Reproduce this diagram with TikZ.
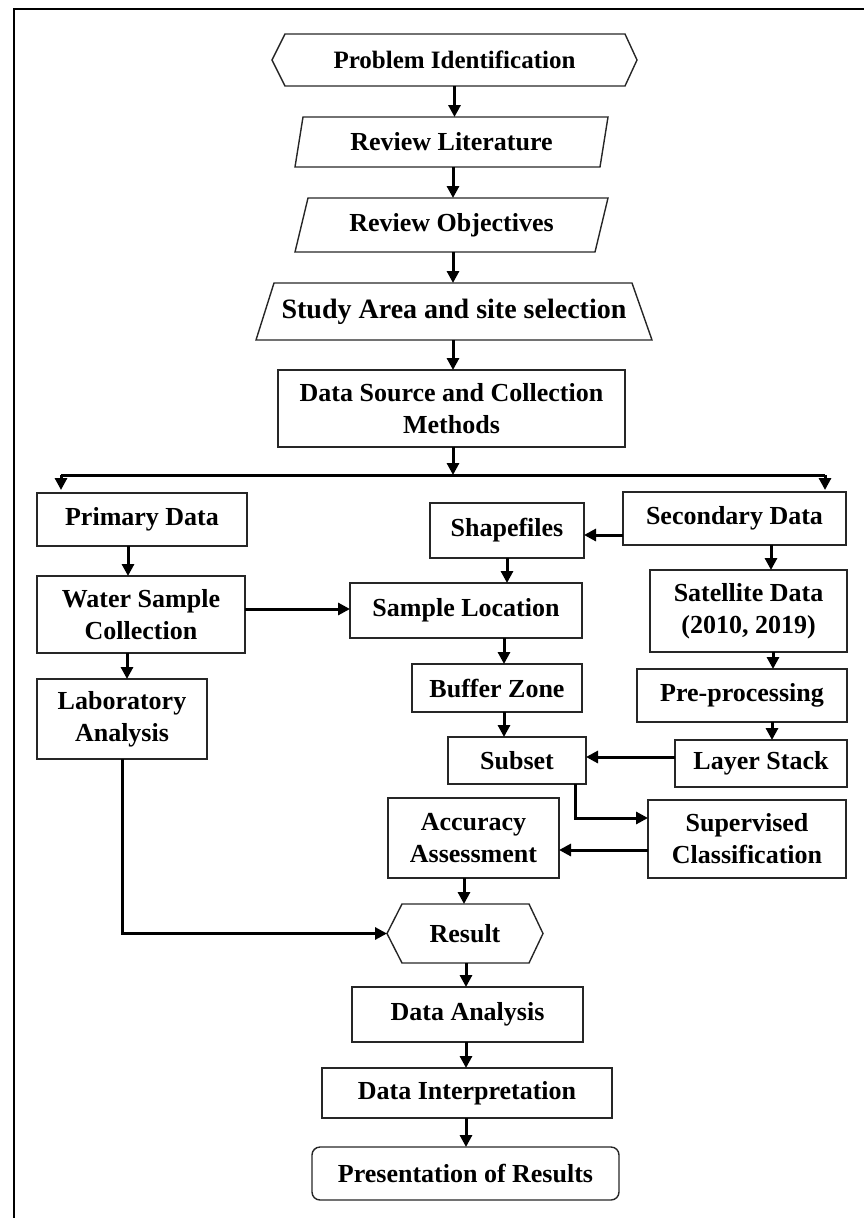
\documentclass[tikz,border=0pt]{standalone}
\usepackage{fontspec}
\setmainfont{Liberation Serif}
\usetikzlibrary{arrows.meta}
\begin{document}
\begin{tikzpicture}[x=1pt,y=-1pt,
  lbl/.style={inner sep=0pt, outer sep=0pt, align=center,
    font=\bfseries\fontsize{26}{32}\selectfont},
  box/.style={lbl, draw=black!85, line width=1.4pt},
  outl/.style={draw=black!85, line width=1.4pt, line join=miter},
  arr/.style={line width=3pt, black, -{Triangle[length=12pt,width=12pt]}},
  plain/.style={line width=3pt, black}]
\useasboundingbox (0,0) rectangle (864,1218);
\draw[line width=2pt] (14,1218) -- (14,9) -- (864,9);

% top chain
\node[lbl, minimum width=365pt, minimum height=52pt, font=\bfseries\fontsize{25}{30}\selectfont] (prob) at (454.5,60) {Problem Identification};
\draw[outl] (prob.west) -- ([xshift=13pt]prob.north west) -- ([xshift=-12pt]prob.north east) -- (prob.east) -- ([xshift=-12pt]prob.south east) -- ([xshift=13pt]prob.south west) -- cycle;

\node[lbl, minimum width=313pt, minimum height=50pt] (lit) at (451.5,142) {Review Literature};
\draw[outl] (lit.south west) -- ([xshift=8pt]lit.north west) -- (lit.north east) -- ([xshift=-8pt]lit.south east) -- cycle;

\node[lbl, minimum width=313pt, minimum height=54pt] (obj) at (451.5,225) {Review Objectives};
\draw[outl] (obj.south west) -- ([xshift=13pt]obj.north west) -- (obj.north east) -- ([xshift=-13pt]obj.south east) -- cycle;

\node[lbl, minimum width=396pt, minimum height=57pt, font=\bfseries\fontsize{28}{32}\selectfont] (study) at (454,311.5) {Study Area and site selection};
\draw[outl] (study.south west) -- ([xshift=18pt]study.north west) -- ([xshift=-20pt]study.north east) -- (study.south east) -- cycle;

\node[box, minimum width=347pt, minimum height=77pt] (ds) at (451.5,408.5) {Data Source and Collection\\Methods};

% left column
\node[box, minimum width=210pt, minimum height=53pt] (prim) at (142,519.5) {Primary Data};
\node[box, minimum width=208pt, minimum height=77pt] (water) at (141,614.5) {Water Sample\\Collection};
\node[box, minimum width=170pt, minimum height=80pt] (lab) at (122,719) {Laboratory\\Analysis};

% middle column
\node[box, minimum width=154pt, minimum height=55pt] (shp) at (507,530.5) {Shapefiles};
\node[box, minimum width=232pt, minimum height=55pt] (samp) at (466,610.5) {Sample Location};
\node[box, minimum width=170pt, minimum height=48pt] (buf) at (497,688) {Buffer Zone};
\node[box, minimum width=138pt, minimum height=47pt] (subset) at (517,760.5) {Subset};
\node[box, minimum width=171pt, minimum height=80pt] (acc) at (473.5,838) {Accuracy\\Assessment};

% right column
\node[box, minimum width=223pt, minimum height=53pt] (sec) at (734.5,518.5) {Secondary Data};
\node[box, minimum width=197pt, minimum height=82pt] (sat) at (748.5,611) {Satellite Data\\(2010, 2019)};
\node[box, minimum width=210pt, minimum height=53pt] (pre) at (742,695.5) {Pre-processing};
\node[box, minimum width=172pt, minimum height=47pt] (layer) at (761,763.5) {Layer Stack};
\node[box, minimum width=198pt, minimum height=78pt] (sup) at (747,839) {Supervised\\Classification};

% bottom chain
\node[lbl, minimum width=156pt, minimum height=59pt] (res) at (465,933.5) {Result};
\draw[outl] (res.west) -- ([xshift=15pt]res.north west) -- ([xshift=-14pt]res.north east) -- (res.east) -- ([xshift=-14pt]res.south east) -- ([xshift=15pt]res.south west) -- cycle;
\node[box, minimum width=231pt, minimum height=55pt] (dan) at (467.5,1014.5) {Data Analysis};
\node[box, minimum width=290pt, minimum height=50pt] (dint) at (467,1093) {Data Interpretation};
\node[box, rounded corners=8pt, minimum width=307pt, minimum height=53pt] (pres) at (465.5,1173.5) {Presentation of Results};

% connectors top chain
\draw[arr] (prob.south) -- (prob.south |- lit.north);
\draw[arr] ([xshift=1.5pt]lit.south) -- ([xshift=1.5pt]lit.south |- obj.north);
\draw[arr] ([xshift=1.5pt]obj.south) -- ([xshift=1.5pt]obj.south |- study.north);
\draw[arr] ([xshift=-1pt]study.south) -- ([xshift=-1pt]study.south |- ds.north);

% split
\coordinate (split) at (453,475);
\coordinate (bl) at (61,475);
\coordinate (br) at (825,475);
\draw[arr] ([xshift=1.5pt]ds.south) -- (split);
\draw[plain] (bl) -- (br);
\draw[arr, shorten >=3pt] (bl) -- (bl |- prim.north);
\draw[arr, shorten >=2pt] (br) -- (br |- sec.north);

% left
\draw[arr] ([xshift=-14pt]prim.south) -- ([xshift=-14pt]prim.south |- water.north);
\draw[arr] ([xshift=-14pt]water.south) -- ([xshift=-14pt]water.south |- lab.north);
\draw[arr] ([yshift=5.5pt]water.east) -- ([yshift=1.5pt]samp.west);
\draw[arr] (lab.south) |- (res.west);

% middle
\draw[arr] ([yshift=-16.5pt]sec.west) -- ([yshift=-4.5pt]shp.east);
\draw[arr] (shp.south) -- (shp.south |- samp.north);
\draw[arr] ([xshift=38pt]samp.south) -- ([xshift=38pt]samp.south |- buf.north);
\draw[arr] ([xshift=7pt]buf.south) -- ([xshift=7pt]buf.south |- subset.north);
\draw[arr] ([yshift=6.5pt]layer.west) -- ([yshift=3.5pt]subset.east);
\draw[arr] ([xshift=58pt]subset.south) |- ([yshift=21pt]sup.west);
\draw[arr] ([yshift=-11pt]sup.west) -- ([yshift=-12pt]acc.east);
\draw[arr] ([xshift=-9.5pt]acc.south) -- ([xshift=-9.5pt]acc.south |- res.north);

% right
\draw[arr] ([xshift=36.5pt]sec.south) -- ([xshift=36.5pt]sec.south |- sat.north);
\draw[arr] ([xshift=24.5pt]sat.south) -- ([xshift=24.5pt]sat.south |- pre.north);
\draw[arr] ([xshift=30pt]pre.south) -- ([xshift=30pt]pre.south |- layer.north);

% bottom chain
\draw[arr] ([xshift=1pt]res.south) -- ([xshift=1pt]res.south |- dan.north);
\draw[arr] ([xshift=-1.5pt]dan.south) -- ([xshift=-1.5pt]dan.south |- dint.north);
\draw[arr] ([xshift=-1pt]dint.south) -- ([xshift=-1pt]dint.south |- pres.north);
\end{tikzpicture}
\end{document}
